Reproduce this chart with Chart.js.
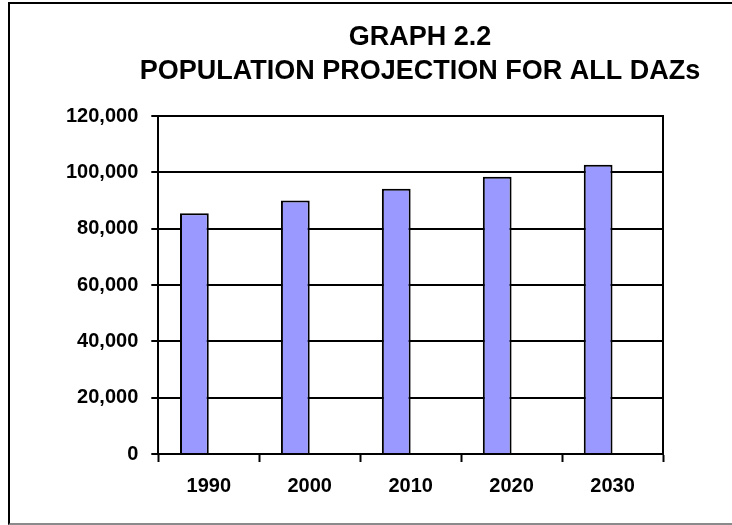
<!DOCTYPE html>
<html>
<head>
<meta charset="utf-8">
<title>Graph 2.2</title>
<script src="https://cdn.jsdelivr.net/npm/chart.js@4/dist/chart.umd.min.js"></script>
<style>
  html, body { margin: 0; padding: 0; background: #fff; overflow: hidden; }
  body { width: 732px; height: 525px; position: relative; }
  /* frame of the original sheet, cut off on the right */
  #frame {
    position: absolute; left: 8px; top: 2px; width: 900px; height: 519px;
    border-left: 2px solid #000; border-top: 2px solid #000; border-bottom: 2px solid #8a8a8a;
  }
  #wrap { position: absolute; left: 0; top: 0; width: 800px; height: 525px; }
</style>
</head>
<body>
<div id="frame"></div>
<div id="wrap"><canvas id="chart"></canvas></div>
<script>
// values
const years = ["1990", "2000", "2010", "2020", "2030"];
const population = [85500, 90000, 94200, 98500, 102700];
const emptySeries = [null, null, null, null, null]; // second (blank) series shifts bars left
const titleLines = ["GRAPH 2.2", "POPULATION PROJECTION FOR ALL DAZs"];

const FONT = "'Liberation Sans', Arial, Helvetica, sans-serif";

new Chart(document.getElementById("chart"), {
  type: "bar",
  data: {
    labels: years,
    datasets: [
      {
        data: population,
        backgroundColor: "#9999ff",
        borderColor: "#000",
        borderWidth: 2,
        categoryPercentage: 0.57,
        barPercentage: 1,
      },
      {
        data: emptySeries,
        backgroundColor: "#993366",
        categoryPercentage: 0.57,
        barPercentage: 1,
      },
    ],
  },
  options: {
    responsive: true,
    maintainAspectRatio: false,
    animation: false,
    layout: { padding: { left: 53, right: 13, top: 0, bottom: 15 } },
    plugins: {
      legend: { display: false },
      tooltip: { enabled: false },
      title: {
        display: true,
        text: titleLines,
        color: "#000",
        font: { family: FONT, size: 27, weight: "bold", lineHeight: 1.28 },
        padding: { top: 20, bottom: 27 },
      },
    },
    scales: {
      x: {
        grid: { drawOnChartArea: false, drawTicks: true, tickLength: 8, tickColor: "#000", tickWidth: 2, color: "#000" },
        border: { color: "#000", width: 2 },
        ticks: { color: "#000", padding: 12, font: { family: FONT, size: 20, weight: "bold" } },
      },
      y: {
        min: 0,
        max: 120000,
        ticks: {
          stepSize: 20000,
          color: "#000",
          padding: 13,
          font: { family: FONT, size: 20, weight: "bold" },
          callback: (v) => v.toLocaleString("en-US"),
        },
        grid: { color: "#000", lineWidth: 2, tickLength: 7, tickColor: "#000", tickWidth: 2 },
        border: { color: "#000", width: 2 },
      },
      // right edge of the plot box; wide blank scale keeps the title centred like the original
      y2: {
        position: "right",
        min: 0,
        max: 1,
        ticks: { display: false },
        grid: { display: false, drawTicks: false },
        border: { color: "#000", width: 2 },
        afterFit: (scale) => { scale.width = 124; },
      },
    },
  },
});
</script>
</body>
</html>
